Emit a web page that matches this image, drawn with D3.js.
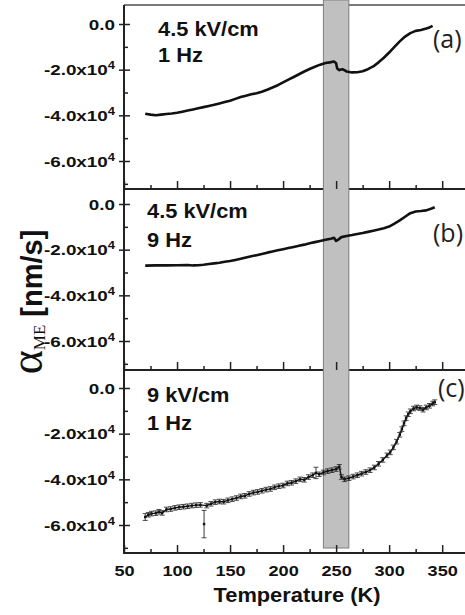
<!DOCTYPE html>
<html>
<head>
<meta charset="utf-8">
<script src="https://cdn.jsdelivr.net/npm/d3@7"></script>
<style>
  body { margin: 0; background: #fff; }
  svg { display: block; }
</style>
</head>
<body>
<svg id="chart" width="465" height="615"></svg>
<script>
// Temperature axis ticks
const majorX = [50, 100, 150, 200, 250, 300, 350];
const minorX = [75, 125, 175, 225, 275, 325, 375];
// alpha_ME axis ticks (nm/s)
const majorY = [0, -20000, -40000, -60000];
const minorY = [-10000, -30000, -50000, -70000];

// shaded transition range (K)
const band = [238, 262];

// panel (a): 4.5 kV/cm, 1 Hz
const tempA = [70, 75, 80, 85, 90, 95, 100, 105, 110, 115, 120, 125, 130, 135, 140, 145,
  150, 155, 160, 165, 170, 175, 180, 185, 190, 195, 200, 205, 210, 215, 220, 225, 230,
  235, 240, 244, 248, 250, 251, 253, 256, 260, 265, 270, 275, 280, 285, 290, 295, 300,
  305, 310, 315, 320, 325, 330, 335, 338, 341];
const valA = [-39300, -39700, -40000, -39700, -39400, -39200, -38900, -38400, -37900,
  -37400, -36900, -36400, -35900, -35400, -34800, -34200, -33600, -32800, -32000,
  -31400, -30800, -30300, -29700, -28800, -27800, -26800, -25600, -24400, -23200,
  -22000, -20800, -19700, -18700, -17800, -17100, -16800, -16400, -17200, -19500,
  -20200, -19800, -20800, -21200, -21100, -20700, -19800, -18600, -16800, -14800,
  -12500, -10000, -7600, -5500, -4000, -3000, -2600, -2000, -1500, -800];

// panel (b): 4.5 kV/cm, 9 Hz
const tempB = [70, 80, 90, 100, 110, 115, 120, 125, 130, 135, 140, 145, 150, 155, 160,
  165, 170, 175, 180, 185, 190, 195, 200, 205, 210, 215, 220, 225, 230, 235, 240, 245,
  248, 250, 252, 255, 260, 265, 270, 275, 280, 285, 290, 295, 300, 305, 310, 315, 320,
  325, 330, 335, 340, 343];
const valB = [-27000, -26900, -26900, -26800, -26700, -26900, -26800, -26600, -26300,
  -26000, -25700, -25300, -25000, -24500, -24000, -23400, -22900, -22400, -21900,
  -21300, -20800, -20300, -19800, -19300, -18800, -18300, -17800, -17200, -16700,
  -16200, -15700, -15200, -14800, -16200, -15600, -14500, -14000, -13600, -13100,
  -12700, -12200, -11700, -11200, -10600, -9900, -8600, -7200, -5600, -4000, -3300,
  -3100, -2800, -2000, -1400];

// panel (c): 9 kV/cm, 1 Hz, with error bars
const tempC = [70, 73, 76, 80, 83, 86, 90, 94, 98, 102, 106, 110, 114, 118, 122, 128, 132,
  136, 140, 144, 148, 152, 156, 160, 164, 168, 172, 176, 180, 184, 188, 192, 196, 200,
  204, 208, 212, 216, 220, 224, 228, 231, 234, 238, 242, 246, 250, 253, 255, 258, 262,
  266, 270, 274, 278, 282, 286, 290, 294, 298, 301, 304, 307, 310, 312, 314, 316, 318,
  320, 323, 326, 329, 332, 335, 338, 341, 343];
const valC = [-56500, -55500, -55000, -54800, -54200, -54700, -53200, -53000, -52500,
  -52200, -52000, -51800, -51500, -51300, -51200, -51500, -50700, -50000, -49700,
  -49800, -49200, -48700, -48200, -47500, -47200, -46400, -45800, -45500, -45000,
  -44500, -44200, -43500, -43000, -42700, -41800, -41500, -40800, -40000, -40200,
  -39000, -38200, -37200, -37800, -37000, -36400, -36000, -35500, -34500, -39000,
  -40000, -39500, -38800, -38200, -37500, -36800, -36000, -34800, -33200, -31500,
  -29500, -28200, -26000, -23500, -20500, -18000, -15500, -13200, -11500, -10200,
  -9000, -8500, -8800, -9500, -8500, -7800, -6800, -6200];
const errC = [1500, 1000, 1000, 1000, 1000, 1000, 1000, 1000, 1000, 1000, 1000, 1000,
  1000, 1000, 1000, 1000, 1000, 1000, 1000, 1000, 1000, 1000, 1000, 1000, 1000, 1000,
  1000, 1000, 1000, 1000, 1000, 1000, 1000, 1000, 1000, 1000, 1000, 1000, 1000, 1000,
  1000, 2500, 1000, 1000, 1000, 1000, 1000, 1000, 1000, 1000, 1000, 1000, 1000, 1000,
  1000, 1000, 1000, 1000, 1000, 1000, 1000, 1000, 1000, 1000, 1000, 1000, 1000, 1000,
  1000, 1000, 1000, 1000, 1000, 1000, 1000, 1000, 1000];
// single stray point near 125 K
const outTempC = [125.5];
const outValC = [-59600];
const outErrC = [6000];

const fieldLabels = ["4.5 kV/cm", "4.5 kV/cm", "9 kV/cm"];
const freqLabels = ["1 Hz", "9 Hz", "1 Hz"];
const panelTags = ["(a)", "(b)", "(c)"];

// layout
const panelTop = [5, 189, 370];
const panelBottom = [189, 370, 553];
const zeroY = [24, 204, 388];
const labelX = [158, 147, 147];
const fieldBase = [36, 218, 402];
const freqBase = [62, 247, 430];
const tagPos = [[433, 48], [433, 242], [438, 397]];

const svg = d3.select("#chart");
const x = d3.scaleLinear().domain([50, 380]).range([124, 474]);

const gBorder = svg.append("g");
const gBand = svg.append("g");
const gAxes = svg.append("g");
const gData = svg.append("g");
const gText = svg.append("g");

const bold = "'Liberation Sans', Arial, sans-serif";

// panel frames
gBorder.append("line")
  .attr("x1", 124).attr("x2", 465).attr("y1", panelTop[0]).attr("y2", panelTop[0])
  .attr("stroke", "#7a7a7a").attr("stroke-width", 2);
panelTop.forEach((t, i) => {
  gBorder.append("line")
    .attr("x1", x(50)).attr("x2", x(50)).attr("y1", t).attr("y2", panelBottom[i])
    .attr("stroke", "#222").attr("stroke-width", 2);
  gBorder.append("line")
    .attr("x1", x(50) - 1).attr("x2", 465).attr("y1", panelBottom[i]).attr("y2", panelBottom[i])
    .attr("stroke", "#222").attr("stroke-width", 2);
});

// shaded band over all panels
gBand.append("rect")
  .attr("x", x(band[0]))
  .attr("width", x(band[1]) - x(band[0]))
  .attr("y", 0)
  .attr("height", 548)
  .attr("fill", "#c0c0c0")
  .attr("stroke", "#7f7f7f")
  .attr("stroke-width", 1);

const line = (y) => d3.line()
  .x(d => x(d[0]))
  .y(d => y(d[1]));

panelTop.forEach((t, i) => {
  const y = d3.scaleLinear().domain([0, -60000]).range([zeroY[i], zeroY[i] + 137]);

  // left ticks
  const gy = gAxes.append("g")
    .attr("transform", `translate(${x(50)},0)`)
    .call(d3.axisLeft(y).tickValues(majorY).tickSize(5).tickSizeOuter(0));
  gy.select(".domain").remove();
  gy.selectAll(".tick line").attr("x1", 6).attr("stroke", "#222").attr("stroke-width", 1.5);
  gy.selectAll(".tick text").each(function(v) {
    const txt = d3.select(this);
    txt.text(null)
      .attr("x", null).attr("dy", null)
      .attr("transform", "translate(-9,5) scale(1.3,1)")
      .attr("text-anchor", "end")
      .attr("fill", "#111")
      .attr("font-family", bold)
      .attr("font-weight", "bold")
      .attr("font-size", 14.5);
    if (v === 0) {
      txt.text("0.0");
    } else {
      txt.append("tspan").text((v / 1e4).toFixed(1) + "x10");
      txt.append("tspan").attr("dy", -6).attr("font-size", 10).text("4");
    }
  });

  const gym = gAxes.append("g")
    .attr("transform", `translate(${x(50)},0)`)
    .call(d3.axisLeft(y).tickValues(minorY).tickSize(-4).tickSizeOuter(0).tickFormat(""));
  gym.select(".domain").remove();
  gym.selectAll(".tick line").attr("stroke", "#222").attr("stroke-width", 1.5);

  // bottom ticks
  const gx = gAxes.append("g")
    .attr("transform", `translate(0,${panelBottom[i]})`)
    .call(d3.axisBottom(x).tickValues(majorX).tickSize(-8).tickSizeOuter(0));
  gx.select(".domain").remove();
  gx.selectAll(".tick line").attr("stroke", "#222").attr("stroke-width", 1.5);
  if (i === 2) {
    gx.selectAll(".tick text")
      .attr("y", null).attr("dy", null)
      .attr("transform", "translate(0,23) scale(1.17,1)")
      .attr("fill", "#111")
      .attr("font-family", bold)
      .attr("font-weight", "bold")
      .attr("font-size", 15.5);
  } else {
    gx.selectAll(".tick text").remove();
  }
  const gxm = gAxes.append("g")
    .attr("transform", `translate(0,${panelBottom[i]})`)
    .call(d3.axisBottom(x).tickValues(minorX).tickSize(-4).tickSizeOuter(0).tickFormat(""));
  gxm.select(".domain").remove();
  gxm.selectAll(".tick line").attr("stroke", "#222").attr("stroke-width", 1.5);

  // data
  if (i === 0 || i === 1) {
    const T = i === 0 ? tempA : tempB;
    const V = i === 0 ? valA : valB;
    gData.append("path")
      .datum(T.map((d, k) => [d, V[k]]))
      .attr("d", line(y))
      .attr("fill", "none")
      .attr("stroke", "#111")
      .attr("stroke-width", 2.6)
      .attr("stroke-linejoin", "round");
  } else {
    const pts = tempC.map((d, k) => [d, valC[k], errC[k]]);
    gData.append("path")
      .datum(pts)
      .attr("d", line(y))
      .attr("fill", "none")
      .attr("stroke", "#111")
      .attr("stroke-width", 1.4);
    const outs = outTempC.map((d, k) => [d, outValC[k], outErrC[k]]);
    const all = pts.concat(outs);
    const eb = gData.append("g").selectAll("g").data(all).join("g");
    eb.append("line")
      .attr("x1", d => x(d[0])).attr("x2", d => x(d[0]))
      .attr("y1", d => y(d[1] + d[2])).attr("y2", d => y(d[1] - d[2]))
      .attr("stroke", "#222").attr("stroke-width", 0.9);
    eb.append("line")
      .attr("x1", d => x(d[0]) - 2.5).attr("x2", d => x(d[0]) + 2.5)
      .attr("y1", d => y(d[1] + d[2])).attr("y2", d => y(d[1] + d[2]))
      .attr("stroke", "#222").attr("stroke-width", 0.8);
    eb.append("line")
      .attr("x1", d => x(d[0]) - 2.5).attr("x2", d => x(d[0]) + 2.5)
      .attr("y1", d => y(d[1] - d[2])).attr("y2", d => y(d[1] - d[2]))
      .attr("stroke", "#222").attr("stroke-width", 0.8);
    eb.append("rect")
      .attr("x", d => x(d[0]) - 1.2).attr("y", d => y(d[1]) - 1.2)
      .attr("width", 2.4).attr("height", 2.4)
      .attr("fill", "#111");
  }

  // annotations
  gText.append("text")
    .attr("transform", `translate(${labelX[i]},${fieldBase[i]}) scale(1.12,1)`)
    .attr("font-family", bold).attr("font-weight", "bold").attr("font-size", 19.5)
    .attr("fill", "#111")
    .text(fieldLabels[i]);
  gText.append("text")
    .attr("transform", `translate(${labelX[i]},${freqBase[i]}) scale(1.12,1)`)
    .attr("font-family", bold).attr("font-weight", "bold").attr("font-size", 19.5)
    .attr("fill", "#111")
    .text(freqLabels[i]);
  gText.append("text")
    .attr("x", tagPos[i][0]).attr("y", tagPos[i][1])
    .attr("font-family", "'Open Sans', sans-serif").attr("font-size", 25)
    .attr("fill", "#222")
    .text(panelTags[i]);
});

// axis titles
gText.append("text")
  .attr("transform", "translate(297,602) scale(1.04,1)")
  .attr("text-anchor", "middle")
  .attr("font-family", bold).attr("font-weight", "bold").attr("font-size", 21)
  .attr("fill", "#111")
  .text("Temperature (K)");

const yl = gText.append("text")
  .attr("transform", "translate(42,302) rotate(-90)")
  .attr("text-anchor", "middle")
  .attr("fill", "#111");
yl.append("tspan")
  .attr("font-family", "'Liberation Serif', serif").attr("font-size", 46)
  .text("α");
yl.append("tspan")
  .attr("font-family", "'Liberation Serif', serif").attr("font-size", 17)
  .attr("dy", 3)
  .text("ME");
yl.append("tspan")
  .attr("font-family", bold).attr("font-weight", "bold").attr("font-size", 29)
  .attr("dy", -3)
  .text(" [nm/s]");
</script>
</body>
</html>
